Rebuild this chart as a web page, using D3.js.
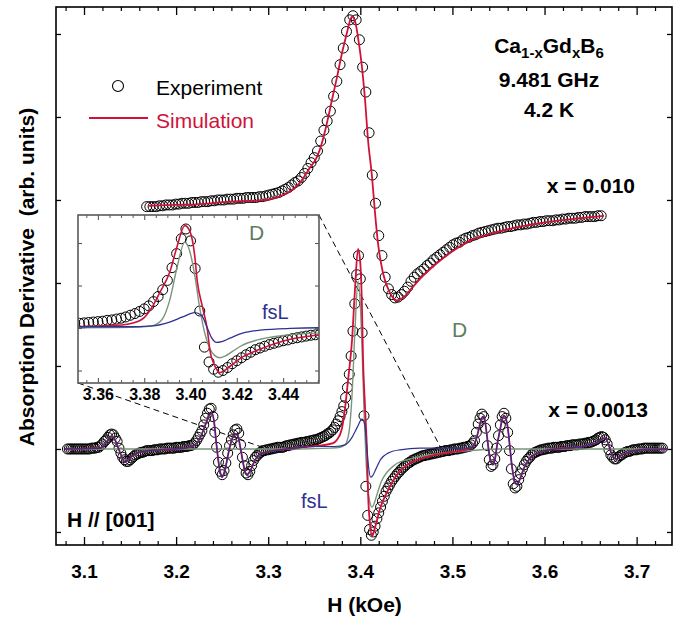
<!DOCTYPE html>
<html><head><meta charset="utf-8">
<script src="https://cdn.jsdelivr.net/npm/d3@7"></script>
<style>
body{margin:0;background:#fff}
svg{display:block}
text{font-family:Arial,"Liberation Sans",Helvetica,sans-serif}
</style>
</head><body>
<svg id="chart" width="678" height="620"></svg>
<script>
// ---------- DATA ----------
// x = 0.010 sample: experiment
const upperField = [
3.168,3.1715,3.175,3.1785,3.182,3.1855,3.189,3.1925,3.196,3.1995,
3.203,3.2065,3.21,3.2135,3.217,3.2205,3.224,3.2275,3.231,3.2345,
3.238,3.2415,3.245,3.2485,3.252,3.2555,3.259,3.2625,3.266,3.2695,
3.273,3.2765,3.28,3.2835,3.287,3.2905,3.294,3.2975,3.301,3.3045,
3.308,3.3115,3.315,3.3185,3.322,3.3255,3.329,3.3325,3.336,3.3395,
3.343,3.3465,3.35,3.3535,3.357,3.3605,3.364,3.3675,3.371,3.3745,
3.378,3.3815,3.385,3.3885,3.392,3.3955,3.399,3.4025,3.406,3.4095,
3.413,3.4165,3.42,3.4235,3.427,3.4305,3.434,3.4375,3.441,3.4445,
3.448,3.4515,3.455,3.4585,3.462,3.4655,3.469,3.4725,3.476,3.4795,
3.483,3.4865,3.49,3.4935,3.497,3.5005,3.504,3.5075,3.511,3.5145,
3.518,3.5215,3.525,3.5285,3.532,3.5355,3.539,3.5425,3.546,3.5495,
3.553,3.5565,3.56,3.5635,3.567,3.5705,3.574,3.5775,3.581,3.5845,
3.588,3.5915,3.595,3.5985,3.602,3.6055,3.609,3.6125,3.616,3.6195,
3.623,3.6265,3.63,3.6335,3.637,3.6405,3.644,3.6475,3.651,3.6545,
3.658,3.6615];
const upperSignal = [
2.92,2.92,2.92,2.92,2.93,2.93,2.94,2.94,2.94,2.95,
2.95,2.96,2.96,2.96,2.97,2.97,2.97,2.98,2.98,2.98,
2.99,2.99,3.00,3.00,3.00,3.01,3.01,3.01,3.02,3.02,
3.02,3.03,3.03,3.03,3.03,3.04,3.04,3.05,3.06,3.07,
3.08,3.09,3.11,3.13,3.15,3.18,3.21,3.23,3.27,3.32,
3.38,3.45,3.51,3.59,3.71,3.84,3.95,4.07,4.25,4.43,
4.63,4.83,5.03,5.17,5.22,5.17,4.93,4.60,4.30,3.81,
3.30,2.96,2.57,2.33,2.07,1.93,1.86,1.82,1.83,1.86,
1.90,1.95,2.02,2.07,2.11,2.14,2.17,2.21,2.24,2.28,
2.31,2.34,2.37,2.40,2.43,2.46,2.48,2.49,2.52,2.54,
2.55,2.57,2.58,2.60,2.61,2.62,2.63,2.64,2.65,2.66,
2.66,2.67,2.68,2.68,2.69,2.70,2.70,2.71,2.71,2.72,
2.73,2.73,2.74,2.74,2.75,2.75,2.75,2.76,2.76,2.77,
2.77,2.78,2.78,2.78,2.79,2.79,2.80,2.80,2.80,2.80,
2.81,2.81];
// x = 0.010 sample: simulation
const upperSimField = [3.1695,3.1988,3.226,3.2585,3.2857,3.302,3.316,3.3269,3.3345,3.3454,3.353,3.3584,3.3638,3.3693,3.3747,3.3801,3.3856,3.3888,3.391,3.3942,3.3975,3.4018,3.4051,3.4084,3.4127,3.416,3.4192,3.4246,3.4322,3.4398,3.4474,3.4561,3.4648,3.4811,3.4974,3.5191,3.5408,3.5734,3.606,3.6385,3.6646];
const upperSimSignal = [2.93,2.94,2.95,2.98,2.99,3.01,3.06,3.13,3.21,3.39,3.52,3.69,3.93,4.21,4.48,4.77,5.02,5.16,5.21,5.16,4.96,4.60,4.21,3.72,3.28,2.84,2.48,2.12,1.88,1.79,1.83,1.94,2.05,2.22,2.36,2.51,2.59,2.68,2.74,2.78,2.81];

// x = 0.0013 sample: experiment
const lowerField = [
3.082,3.084,3.086,3.088,3.090,3.092,3.094,3.096,3.098,3.100,
3.102,3.104,3.106,3.108,3.110,3.112,3.114,3.116,3.118,3.120,
3.122,3.124,3.126,3.128,3.130,3.132,3.134,3.136,3.138,3.140,
3.142,3.144,3.146,3.148,3.150,3.152,3.154,3.156,3.158,3.160,
3.162,3.164,3.166,3.168,3.170,3.172,3.174,3.176,3.178,3.180,
3.182,3.184,3.186,3.188,3.190,3.192,3.194,3.196,3.198,3.200,
3.202,3.204,3.206,3.208,3.210,3.212,3.214,3.216,3.218,3.220,
3.222,3.224,3.226,3.228,3.230,3.232,3.234,3.236,3.238,3.240,
3.242,3.244,3.246,3.248,3.250,3.252,3.254,3.256,3.258,3.260,
3.262,3.264,3.266,3.268,3.270,3.272,3.274,3.276,3.278,3.280,
3.282,3.284,3.286,3.288,3.290,3.292,3.294,3.296,3.298,3.300,
3.302,3.304,3.306,3.308,3.310,3.312,3.314,3.316,3.318,3.320,
3.322,3.324,3.326,3.328,3.330,3.332,3.334,3.336,3.338,3.340,
3.342,3.344,3.346,3.348,3.350,3.352,3.354,3.356,3.358,3.360,
3.362,3.364,3.366,3.368,3.370,3.372,3.374,3.376,3.378,3.380,
3.382,3.384,3.386,3.388,3.390,3.392,3.394,3.396,3.398,3.400,
3.402,3.404,3.406,3.408,3.410,3.412,3.414,3.416,3.418,3.420,
3.422,3.424,3.426,3.428,3.430,3.432,3.434,3.436,3.438,3.440,
3.442,3.444,3.446,3.448,3.450,3.452,3.454,3.456,3.458,3.460,
3.462,3.464,3.466,3.468,3.470,3.472,3.474,3.476,3.478,3.480,
3.482,3.484,3.486,3.488,3.490,3.492,3.494,3.496,3.498,3.500,
3.502,3.504,3.506,3.508,3.510,3.512,3.514,3.516,3.518,3.520,
3.522,3.524,3.526,3.528,3.530,3.532,3.534,3.536,3.538,3.540,
3.542,3.544,3.546,3.548,3.550,3.552,3.554,3.556,3.558,3.560,
3.562,3.564,3.566,3.568,3.570,3.572,3.574,3.576,3.578,3.580,
3.582,3.584,3.586,3.588,3.590,3.592,3.594,3.596,3.598,3.600,
3.602,3.604,3.606,3.608,3.610,3.612,3.614,3.616,3.618,3.620,
3.622,3.624,3.626,3.628,3.630,3.632,3.634,3.636,3.638,3.640,
3.642,3.644,3.646,3.648,3.650,3.652,3.654,3.656,3.658,3.660,
3.662,3.664,3.666,3.668,3.670,3.672,3.674,3.676,3.678,3.680,
3.682,3.684,3.686,3.688,3.690,3.692,3.694,3.696,3.698,3.700,
3.702,3.704,3.706,3.708,3.710,3.712,3.714,3.716,3.718,3.720,
3.722,3.724,3.726,3.728];
const lowerSignal = [
0,0,0,0,0,0,0,0,0,0,
0,0,0,0.01,0.01,0.01,0.02,0.02,0.04,0.06,
0.09,0.11,0.14,0.17,0.18,0.17,0.13,0.09,0.01,-0.05,
-0.10,-0.13,-0.15,-0.15,-0.13,-0.11,-0.09,-0.07,-0.06,-0.05,
-0.04,-0.04,-0.03,-0.02,-0.02,-0.02,-0.02,-0.01,-0.01,-0.01,
0,0,0,0,0.01,0.01,0.01,0.01,0.01,0.02,
0.02,0.02,0.02,0.03,0.03,0.03,0.04,0.04,0.05,0.07,
0.10,0.14,0.18,0.22,0.29,0.37,0.43,0.48,0.49,0.39,
0.20,0.02,-0.16,-0.27,-0.31,-0.26,-0.17,-0.05,0.04,0.11,
0.17,0.23,0.24,0.19,0.05,-0.10,-0.20,-0.29,-0.31,-0.27,
-0.20,-0.14,-0.10,-0.08,-0.05,-0.04,-0.02,-0.02,-0.01,-0.01,
0,0,0.01,0.01,0.02,0.02,0.02,0.02,0.03,0.04,
0.04,0.05,0.05,0.06,0.06,0.07,0.07,0.08,0.08,0.08,
0.09,0.09,0.10,0.10,0.11,0.11,0.12,0.13,0.14,0.15,
0.16,0.18,0.19,0.21,0.23,0.26,0.30,0.34,0.39,0.45,
0.52,0.62,0.74,0.90,1.12,1.42,1.75,2.10,2.33,2.05,
1.40,0.40,-0.45,-0.80,-0.97,-1.04,-1.00,-0.93,-0.84,-0.77,
-0.70,-0.63,-0.57,-0.51,-0.47,-0.43,-0.39,-0.36,-0.33,-0.30,
-0.28,-0.25,-0.23,-0.21,-0.19,-0.17,-0.16,-0.14,-0.13,-0.12,
-0.11,-0.10,-0.09,-0.08,-0.08,-0.07,-0.07,-0.06,-0.06,-0.05,
-0.05,-0.04,-0.04,-0.03,-0.03,-0.02,-0.02,-0.02,-0.01,-0.01,
0,0,0,0.01,0.01,0.02,0.02,0.03,0.03,0.05,
0.07,0.10,0.20,0.30,0.37,0.42,0.39,0.25,0.04,-0.13,
-0.21,-0.19,-0.12,0.01,0.16,0.29,0.39,0.43,0.37,0.20,
-0.02,-0.24,-0.42,-0.47,-0.45,-0.37,-0.30,-0.24,-0.19,-0.15,
-0.12,-0.10,-0.07,-0.05,-0.04,-0.03,-0.02,-0.01,-0.01,0,
0,0.01,0.01,0.01,0.02,0.02,0.02,0.02,0.03,0.03,
0.03,0.04,0.04,0.04,0.05,0.05,0.05,0.05,0.06,0.06,
0.06,0.07,0.07,0.08,0.08,0.09,0.10,0.11,0.13,0.14,
0.15,0.14,0.11,0.06,-0.01,-0.07,-0.10,-0.12,-0.12,-0.10,
-0.08,-0.07,-0.05,-0.04,-0.03,-0.03,-0.02,-0.01,-0.01,-0.01,
0,0,0,0.01,0.01,0.01,0.01,0.01,0.01,0.01,
0.01,0.01,0.01,0.01];

// x = 0.0013 sample: total simulation (red)
const lowerSimField = [3.0794,3.1174,3.1228,3.1271,3.1304,3.1337,3.1369,3.1402,3.1445,3.1489,3.1543,3.163,3.1825,3.2097,3.2205,3.226,3.2314,3.2357,3.239,3.2412,3.2433,3.2455,3.2477,3.2498,3.2531,3.2564,3.2596,3.2629,3.265,3.2672,3.2694,3.2726,3.2748,3.277,3.2802,3.2846,3.2889,3.2965,3.3128,3.3345,3.3562,3.3704,3.3747,3.3801,3.3834,3.3867,3.391,3.3942,3.3975,3.3997,3.4018,3.4029,3.4051,3.4073,3.4084,3.4105,3.4127,3.4138,3.4171,3.4214,3.429,3.4398,3.454,3.4648,3.4811,3.4974,3.5137,3.5213,3.5256,3.5289,3.5311,3.5332,3.5354,3.5376,3.5397,3.5419,3.5441,3.5463,3.5484,3.5517,3.5539,3.556,3.5582,3.5604,3.5625,3.5647,3.5669,3.5701,3.5734,3.5777,3.5843,3.5951,3.6114,3.6331,3.6494,3.6581,3.6624,3.6657,3.669,3.6722,3.6755,3.6787,3.6831,3.6907,3.7037,3.7341];
const lowerSimSignal = [0,0.01,0.06,0.12,0.15,0.11,0.02,-0.07,-0.16,-0.12,-0.07,-0.03,-0.01,0.01,0.05,0.13,0.28,0.40,0.43,0.33,0.11,-0.11,-0.27,-0.34,-0.25,-0.07,0.08,0.17,0.18,0.15,0.04,-0.16,-0.27,-0.31,-0.27,-0.16,-0.08,-0.04,-0.01,0.02,0.04,0.07,0.11,0.25,0.49,0.83,1.31,1.92,2.41,2.28,1.71,1.11,0.51,-0.05,-0.53,-0.89,-1.05,-1.03,-0.90,-0.72,-0.52,-0.31,-0.17,-0.12,-0.07,-0.04,-0.01,0.02,0.11,0.25,0.35,0.39,0.33,0.15,-0.04,-0.16,-0.19,-0.12,0.04,0.23,0.35,0.40,0.36,0.23,0.01,-0.21,-0.36,-0.43,-0.36,-0.23,-0.11,-0.04,0,0.02,0.05,0.08,0.12,0.13,0.07,-0.04,-0.11,-0.12,-0.08,-0.04,-0.01,0];

// fsL component (blue)
const fsLField = [3.0794,3.1174,3.1228,3.1271,3.1304,3.1337,3.1369,3.1402,3.1445,3.1489,3.1543,3.163,3.1825,3.2097,3.2205,3.226,3.2314,3.2357,3.239,3.2412,3.2433,3.2455,3.2477,3.2498,3.2531,3.2564,3.2596,3.2629,3.265,3.2672,3.2694,3.2726,3.2748,3.277,3.2802,3.2846,3.2889,3.2965,3.3128,3.3345,3.3562,3.3725,3.3834,3.391,3.3966,3.4018,3.4047,3.4069,3.409,3.4112,3.4135,3.417,3.4225,3.4301,3.4431,3.4648,3.5137,3.5213,3.5256,3.5289,3.5311,3.5332,3.5354,3.5376,3.5397,3.5419,3.5441,3.5463,3.5484,3.5517,3.5539,3.556,3.5582,3.5604,3.5625,3.5647,3.5669,3.5701,3.5734,3.5777,3.5843,3.5951,3.6114,3.6331,3.6494,3.6581,3.6624,3.6657,3.669,3.6722,3.6755,3.6787,3.6831,3.6907,3.7037,3.7341];
const fsLSignal = [0,0.01,0.06,0.12,0.15,0.11,0.02,-0.07,-0.16,-0.12,-0.07,-0.03,-0.01,0.01,0.05,0.13,0.28,0.40,0.43,0.33,0.11,-0.11,-0.27,-0.34,-0.25,-0.07,0.08,0.17,0.18,0.15,0.04,-0.16,-0.27,-0.31,-0.27,-0.16,-0.08,-0.04,-0.01,0.02,0.03,0.03,0.05,0.14,0.26,0.36,0.30,0.05,-0.22,-0.34,-0.32,-0.24,-0.12,-0.05,-0.01,0.01,0.01,0.02,0.11,0.25,0.35,0.39,0.33,0.15,-0.04,-0.16,-0.19,-0.12,0.04,0.23,0.35,0.40,0.36,0.23,0.01,-0.21,-0.36,-0.43,-0.36,-0.23,-0.11,-0.04,0,0.02,0.05,0.08,0.12,0.13,0.07,-0.04,-0.11,-0.12,-0.08,-0.04,-0.01,0];

// D component (grey-green)
const dField = [3.0794,3.3345,3.3671,3.378,3.3834,3.3877,3.391,3.3942,3.3975,3.3997,3.4018,3.404,3.4062,3.4084,3.4105,3.4127,3.4149,3.4181,3.4225,3.429,3.4377,3.454,3.4757,3.5083,3.55,3.7341];
const dSignal = [0,0,0.01,0.02,0.05,0.20,0.65,1.43,2.02,1.80,1.25,0.47,-0.13,-0.49,-0.65,-0.70,-0.66,-0.55,-0.40,-0.28,-0.19,-0.12,-0.07,-0.03,0,0];

// axes
const xMajorTicks = [3.1,3.2,3.3,3.4,3.5,3.6,3.7];
const yTicks = [-1,0,1,2,3,4,5];
const insetXMajorTicks = [3.36,3.38,3.40,3.42,3.44];
const insetYTicks = [-1,0,1,2];
// field span of the magnified region (ends of the dashed guide lines)
const zoomSpan = [3.299, 3.488];

// ---------- DRAWING ----------
const RED = "#d0123a", BLUE = "#2e3192", GREEN = "#7a957a", GREEN_TXT = "#5e7c5e";
const svg = d3.select("#chart");
const x = d3.scaleLinear().domain([3.0696, 3.7384]).range([56, 672]);
const y = d3.scaleLinear().domain([-1.157, 5.325]).range([545, 7]);

const zip = (a, b) => a.map((h, i) => ({h: h, v: b[i]}));
const upperExp = zip(upperField, upperSignal);
const upperSim = zip(upperSimField, upperSimSignal);
const lowerExp = zip(lowerField, lowerSignal);
const lowerSim = zip(lowerSimField, lowerSimSignal);
const fsL = zip(fsLField, fsLSignal);
const dComp = zip(dField, dSignal);

function lineGen(xs, ys) {
  return d3.line().x(d => xs(d.h)).y(d => ys(d.v)).curve(d3.curveMonotoneX);
}

function styleAxis(g, color, width) {
  g.select(".domain").remove();
  g.selectAll(".tick line").attr("stroke", color).attr("stroke-width", width);
}

// main axes
const [X0, X1] = x.range();
const [Y1, Y0] = y.range();
const minorX = x.ticks(30).filter(t => !xMajorTicks.some(m => Math.abs(m - t) < 1e-6));

const gB = svg.append("g").attr("transform", `translate(0,${Y1})`)
  .call(d3.axisBottom(x).tickValues(xMajorTicks).tickSizeInner(-8).tickSizeOuter(0).tickPadding(19.5).tickFormat(d3.format(".1f")));
styleAxis(gB, "#000", 1.3);
gB.selectAll("text").attr("font-size", 19).attr("font-weight", "bold").attr("fill", "#000")
  .attr("font-family", "Arial, 'Liberation Sans', sans-serif");
const gBm = svg.append("g").attr("transform", `translate(0,${Y1})`)
  .call(d3.axisBottom(x).tickValues(minorX).tickSizeInner(-4).tickSizeOuter(0).tickFormat(""));
styleAxis(gBm, "#000", 1.2);
const gT = svg.append("g").attr("transform", `translate(0,${Y0})`)
  .call(d3.axisTop(x).tickValues(xMajorTicks).tickSizeInner(-8).tickSizeOuter(0).tickFormat(""));
styleAxis(gT, "#000", 1.3);
const gTm = svg.append("g").attr("transform", `translate(0,${Y0})`)
  .call(d3.axisTop(x).tickValues(minorX).tickSizeInner(-4).tickSizeOuter(0).tickFormat(""));
styleAxis(gTm, "#000", 1.2);
const gL = svg.append("g").attr("transform", `translate(${X0},0)`)
  .call(d3.axisLeft(y).tickValues(yTicks).tickSizeInner(-5).tickSizeOuter(0).tickFormat(""));
styleAxis(gL, "#000", 1.3);
const gR = svg.append("g").attr("transform", `translate(${X1},0)`)
  .call(d3.axisRight(y).tickValues(yTicks).tickSizeInner(-5).tickSizeOuter(0).tickFormat(""));
styleAxis(gR, "#000", 1.3);

svg.append("rect").attr("x", X0).attr("y", Y0).attr("width", X1 - X0).attr("height", Y1 - Y0)
  .attr("fill", "none").attr("stroke", "#000").attr("stroke-width", 1.6);

// axis titles
svg.append("text").attr("x", (X0 + X1) / 2 + 0.5).attr("y", 612).attr("text-anchor", "middle")
  .attr("font-size", 21).attr("font-weight", "bold").text("H (kOe)");
svg.append("text").attr("transform", "translate(34,277) rotate(-90)").attr("text-anchor", "middle")
  .attr("font-size", 21).attr("font-weight", "bold").style("white-space", "pre")
  .text("Absorption Derivative  (arb. units)");

// dashed guide lines (drawn before inset)
const ix = d3.scaleLinear().domain([3.3514, 3.4555]).range([78, 319]);
const iy = d3.scaleLinear().domain([-1.294, 2.659]).range([383, 215]);
const [IX0, IX1] = ix.range();
const [IY1, IY0] = iy.range();
svg.append("line").attr("x1", IX0).attr("y1", IY1).attr("x2", x(zoomSpan[0])).attr("y2", y(0))
  .attr("stroke", "#000").attr("stroke-width", 1).attr("stroke-dasharray", "6,4");
svg.append("line").attr("x1", IX1).attr("y1", IY0).attr("x2", x(zoomSpan[1])).attr("y2", y(0))
  .attr("stroke", "#000").attr("stroke-width", 1).attr("stroke-dasharray", "6,4");

// upper spectrum
svg.append("g").selectAll("circle").data(upperExp).join("circle")
  .attr("cx", d => x(d.h)).attr("cy", d => y(d.v)).attr("r", 5)
  .attr("fill", "none").attr("stroke", "#000").attr("stroke-width", 1);
svg.append("path").datum(upperSim).attr("d", lineGen(x, y))
  .attr("fill", "none").attr("stroke", RED).attr("stroke-width", 1.8);

// lower spectrum
svg.append("g").selectAll("circle").data(lowerExp).join("circle")
  .attr("cx", d => x(d.h)).attr("cy", d => y(d.v)).attr("r", 5)
  .attr("fill", "none").attr("stroke", "#000").attr("stroke-width", 1);
svg.append("path").datum(dComp).attr("d", lineGen(x, y))
  .attr("fill", "none").attr("stroke", GREEN).attr("stroke-width", 1.4);
svg.append("path").datum(lowerSim).attr("d", lineGen(x, y))
  .attr("fill", "none").attr("stroke", RED).attr("stroke-width", 1.8);
svg.append("path").datum(fsL).attr("d", lineGen(x, y))
  .attr("fill", "none").attr("stroke", BLUE).attr("stroke-width", 1.2);

// labels in main panel
const hdr = svg.append("text").attr("x", 549).attr("y", 53).attr("text-anchor", "middle")
  .attr("font-size", 21).attr("font-weight", "bold");
hdr.append("tspan").text("Ca");
hdr.append("tspan").attr("font-size", 15).attr("dy", 5).text("1-x");
hdr.append("tspan").attr("dy", -5).text("Gd");
hdr.append("tspan").attr("font-size", 15).attr("dy", 5).text("x");
hdr.append("tspan").attr("dy", -5).text("B");
hdr.append("tspan").attr("font-size", 15).attr("dy", 5).text("6");
svg.append("text").attr("x", 549).attr("y", 87).attr("text-anchor", "middle")
  .attr("font-size", 21).attr("font-weight", "bold").text("9.481 GHz");
svg.append("text").attr("x", 549).attr("y", 117).attr("text-anchor", "middle")
  .attr("font-size", 21).attr("font-weight", "bold").text("4.2 K");
svg.append("text").attr("x", 635).attr("y", 193).attr("text-anchor", "end")
  .attr("font-size", 21).attr("font-weight", "bold").text("x = 0.010");
svg.append("text").attr("x", 648).attr("y", 417).attr("text-anchor", "end")
  .attr("font-size", 21).attr("font-weight", "bold").text("x = 0.0013");
svg.append("text").attr("x", 67).attr("y", 527)
  .attr("font-size", 21).attr("font-weight", "bold").text("H // [001]");
svg.append("text").attr("x", 301).attr("y", 508).attr("font-size", 20).attr("fill", BLUE).text("fsL");
svg.append("text").attr("x", 452).attr("y", 337).attr("font-size", 21).attr("fill", GREEN_TXT).text("D");

// legend
svg.append("circle").attr("cx", 118).attr("cy", 86).attr("r", 5.5)
  .attr("fill", "none").attr("stroke", "#000").attr("stroke-width", 1.1);
svg.append("line").attr("x1", 89).attr("x2", 148).attr("y1", 118).attr("y2", 118)
  .attr("stroke", RED).attr("stroke-width", 1.8);
svg.append("text").attr("x", 156).attr("y", 95).attr("font-size", 21).text("Experiment");
svg.append("text").attr("x", 156).attr("y", 128).attr("font-size", 21).attr("fill", RED).text("Simulation");

// ---------- INSET ----------
const inset = svg.append("g");
inset.append("rect").attr("x", IX0).attr("y", IY0).attr("width", IX1 - IX0).attr("height", IY1 - IY0)
  .attr("fill", "#fff");
svg.append("defs").append("clipPath").attr("id", "insetClip").append("rect")
  .attr("x", IX0).attr("y", IY0).attr("width", IX1 - IX0).attr("height", IY1 - IY0);
const ic = inset.append("g").attr("clip-path", "url(#insetClip)");
const [hmin, hmax] = ix.domain();
ic.append("g").selectAll("circle").data(lowerExp.filter(d => d.h > hmin - 0.003 && d.h < hmax + 0.003)).join("circle")
  .attr("cx", d => ix(d.h)).attr("cy", d => iy(d.v)).attr("r", 5)
  .attr("fill", "none").attr("stroke", "#000").attr("stroke-width", 1);
ic.append("path").datum(dComp).attr("d", lineGen(ix, iy))
  .attr("fill", "none").attr("stroke", GREEN).attr("stroke-width", 1.4);
ic.append("path").datum(lowerSim).attr("d", lineGen(ix, iy))
  .attr("fill", "none").attr("stroke", RED).attr("stroke-width", 1.6);
ic.append("path").datum(fsL).attr("d", lineGen(ix, iy))
  .attr("fill", "none").attr("stroke", BLUE).attr("stroke-width", 1.3);

const IC = "#5a5a5a";
const minorIX = ix.ticks(20).filter(t => !insetXMajorTicks.some(m => Math.abs(m - t) < 1e-6));
const iB = inset.append("g").attr("transform", `translate(0,${IY1})`)
  .call(d3.axisBottom(ix).tickValues(insetXMajorTicks).tickSizeInner(-5).tickSizeOuter(0).tickPadding(5.5).tickFormat(d3.format(".2f")));
styleAxis(iB, IC, 1.1);
iB.selectAll("text").attr("font-size", 16).attr("font-weight", "bold").attr("fill", "#000")
  .attr("font-family", "Arial, 'Liberation Sans', sans-serif");
const iBm = inset.append("g").attr("transform", `translate(0,${IY1})`)
  .call(d3.axisBottom(ix).tickValues(minorIX).tickSizeInner(-3).tickSizeOuter(0).tickFormat(""));
styleAxis(iBm, IC, 1);
const iT = inset.append("g").attr("transform", `translate(0,${IY0})`)
  .call(d3.axisTop(ix).tickValues(insetXMajorTicks).tickSizeInner(-5).tickSizeOuter(0).tickFormat(""));
styleAxis(iT, IC, 1.1);
const iTm = inset.append("g").attr("transform", `translate(0,${IY0})`)
  .call(d3.axisTop(ix).tickValues(minorIX).tickSizeInner(-3).tickSizeOuter(0).tickFormat(""));
styleAxis(iTm, IC, 1);
const iL = inset.append("g").attr("transform", `translate(${IX0},0)`)
  .call(d3.axisLeft(iy).tickValues(insetYTicks).tickSizeInner(-4).tickSizeOuter(0).tickFormat(""));
styleAxis(iL, IC, 1.1);
const iR = inset.append("g").attr("transform", `translate(${IX1},0)`)
  .call(d3.axisRight(iy).tickValues(insetYTicks).tickSizeInner(-4).tickSizeOuter(0).tickFormat(""));
styleAxis(iR, IC, 1.1);
inset.append("rect").attr("x", IX0).attr("y", IY0).attr("width", IX1 - IX0).attr("height", IY1 - IY0)
  .attr("fill", "none").attr("stroke", IC).attr("stroke-width", 1.6);
inset.append("text").attr("x", 249).attr("y", 240).attr("font-size", 21).attr("fill", GREEN_TXT).text("D");
inset.append("text").attr("x", 262).attr("y", 319).attr("font-size", 20).attr("fill", BLUE).text("fsL");
</script>
</body></html>
